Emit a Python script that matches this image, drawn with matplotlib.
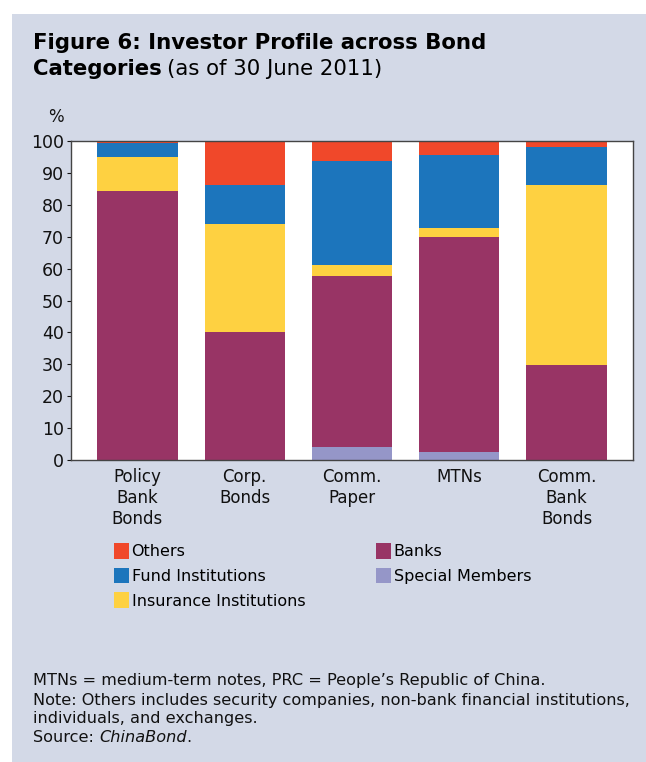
import numpy as np
import matplotlib.pyplot as plt
from matplotlib.patches import Rectangle, Patch

# Categories and shares (%)
categories = ["Policy\nBank\nBonds", "Corp.\nBonds", "Comm.\nPaper", "MTNs", "Comm.\nBank\nBonds"]
special_members = [0.0, 0.0, 4.0, 2.5, 0.0]
banks = [84.3, 40.1, 53.7, 67.4, 29.8]
insurance = [10.7, 33.9, 3.4, 2.8, 56.4]
fund = [4.5, 12.2, 32.6, 22.9, 11.9]
others = [0.5, 13.8, 6.3, 4.4, 1.9]

series = [
    ("Special Members", special_members, "#9596c8"),
    ("Banks", banks, "#983465"),
    ("Insurance Institutions", insurance, "#fed141"),
    ("Fund Institutions", fund, "#1c75bc"),
    ("Others", others, "#f0482a"),
]

W, H = 646, 762
fig = plt.figure(figsize=(W / 100, H / 100), dpi=100)
fig.patch.set_facecolor("white")
panel_bg = "#d3d9e7"
fig.add_artist(Rectangle((12 / W, 0), 1 - 12 / W, 1 - 14 / H, transform=fig.transFigure,
                         facecolor=panel_bg, edgecolor="none", zorder=0))

ax = fig.add_axes([71 / W, (H - 460) / H, 562 / W, 319 / H])
ax.set_facecolor("white")

x = np.arange(len(categories))
bottom = np.zeros(len(categories))
handles = {}
for name, vals, col in series:
    vals = np.array(vals)
    ax.bar(x, vals, 0.75, bottom=bottom, color=col, edgecolor="none", zorder=2)
    handles[name] = Patch(facecolor=col, edgecolor="none")
    bottom += vals

ax.set_xlim(-0.62, 4.62)
ax.set_ylim(0, 100)
ax.set_yticks(np.arange(0, 101, 10))
ax.tick_params(axis="y", labelsize=12.5, length=3, width=0.8, pad=2, colors="#111111")
ax.set_xticks(x)
ax.set_xticklabels(categories, fontsize=12, linespacing=1.2)
ax.tick_params(axis="x", length=0, pad=6, colors="#111111")
for s in ax.spines.values():
    s.set_color("#444444")
    s.set_linewidth(1.0)

fig.text(48 / W, 1 - 117 / H, "%", fontsize=12, va="center", ha="left", color="#111111")

# Title
fig.text(33 / W, 1 - 43 / H, "Figure 6: Investor Profile across Bond", fontsize=15.3,
         fontweight="bold", va="center", ha="left")
t = fig.text(33 / W, 1 - 69 / H, "Categories", fontsize=15.3, fontweight="bold",
             va="center", ha="left")
fig.canvas.draw()
bb = t.get_window_extent()
fig.text(bb.x1 / W + 5 / W, 1 - 69 / H, "(as of 30 June 2011)", fontsize=15.3,
         va="center", ha="left")

# Legend, two columns
order_left = ["Others", "Fund Institutions", "Insurance Institutions"]
order_right = ["Banks", "Special Members"]
leg_kw = dict(frameon=False, fontsize=11.5, handlelength=0.95, handleheight=1.15,
              handletextpad=0.15, labelspacing=0.52, borderaxespad=0, borderpad=0,
              loc="upper left")
fig.legend([handles[n] for n in order_left], order_left,
           bbox_to_anchor=(114 / W, 1 - 543 / H), **leg_kw)
fig.legend([handles[n] for n in order_right], order_right,
           bbox_to_anchor=(376 / W, 1 - 543 / H), **leg_kw)

# Footnotes
fs = 11.6
notes = [
    "MTNs = medium-term notes, PRC = People\u2019s Republic of China.",
    "Note: Others includes security companies, non-bank financial institutions,",
    "individuals, and exchanges.",
]
ys = [681, 701, 719]
for txt, yy in zip(notes, ys):
    fig.text(33 / W, 1 - yy / H, txt, fontsize=fs, va="center", ha="left", color="#111111")
s = fig.text(33 / W, 1 - 738 / H, "Source: ", fontsize=fs, va="center", ha="left", color="#111111")
fig.canvas.draw()
bb = s.get_window_extent()
s2 = fig.text(bb.x1 / W, 1 - 738 / H, "ChinaBond", fontsize=fs, style="italic",
              va="center", ha="left", color="#111111")
fig.canvas.draw()
bb = s2.get_window_extent()
fig.text(bb.x1 / W, 1 - 738 / H, ".", fontsize=fs, va="center", ha="left", color="#111111")

fig.savefig("out.png", dpi=100, facecolor=fig.get_facecolor())
